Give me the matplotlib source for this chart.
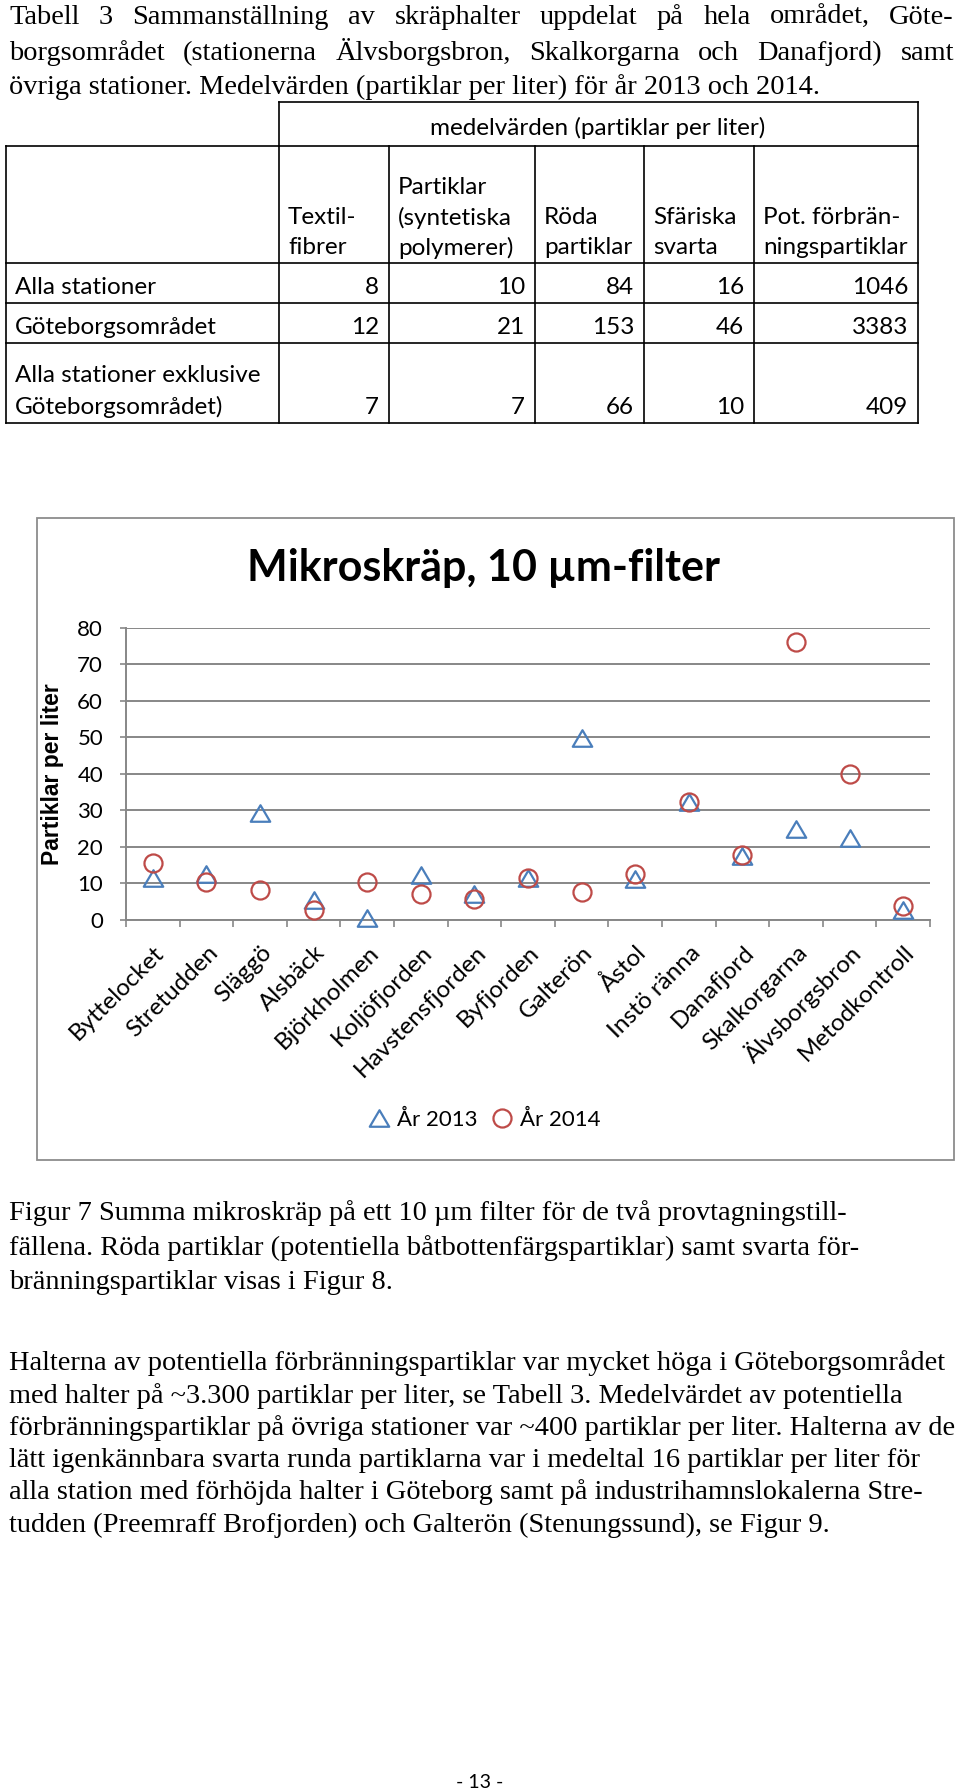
import matplotlib
matplotlib.use("Agg")
import matplotlib.pyplot as plt
import matplotlib.transforms as mtransforms
from matplotlib.lines import Line2D
from matplotlib.patches import Rectangle
from matplotlib.path import Path

W, H = 960, 1791

# chart data (partiklar per liter)
stations = ["Byttelocket", "Stretudden", "Släggö", "Alsbäck", "Björkholmen",
            "Koljöfjorden", "Havstensfjorden", "Byfjorden", "Galterön", "Åstol",
            "Instö ränna", "Danafjord", "Skalkorgarna", "Älvsborgsbron", "Metodkontroll"]
year_2013 = [11.4, 12.6, 29.4, 5.6, 0.5, 12.2, 7.1, 11.5, 49.9, 11.3, 32.2, 17.6, 24.9, 22.3, 2.6]
year_2014 = [15.5, 10.5, 8.2, 2.7, 10.5, 7.0, 5.7, 11.5, 7.7, 12.7, 32.3, 17.7, 75.9, 40.0, 3.8]
y_ticks = [0, 10, 20, 30, 40, 50, 60, 70, 80]

# table data
table_cols = [["Textil-", "fibrer"],
              ["Partiklar", "(syntetiska", "polymerer)"],
              ["Röda", "partiklar"],
              ["Sfäriska", "svarta"],
              ["Pot. förbrän-", "ningspartiklar"]]
table_rows = [["Alla stationer"], ["Göteborgsområdet"],
              ["Alla stationer exklusive", "Göteborgsområdet)"]]
table_vals = [[8, 10, 84, 16, 1046],
              [12, 21, 153, 46, 3383],
              [7, 7, 66, 10, 409]]

caption_top = ["Tabell 3 Sammanställning av skräphalter uppdelat på hela området, Göte-",
               "borgsområdet (stationerna Älvsborgsbron, Skalkorgarna och Danafjord) samt",
               "övriga stationer. Medelvärden (partiklar per liter) för år 2013 och 2014."]
caption_fig = ["Figur 7 Summa mikroskräp på ett 10 µm filter för de två provtagningstill-",
               "fällena. Röda partiklar (potentiella båtbottenfärgspartiklar) samt svarta för-",
               "bränningspartiklar visas i Figur 8."]
paragraph = ["Halterna av potentiella förbränningspartiklar var mycket höga i Göteborgsområdet",
             "med halter på ~3.300 partiklar per liter, se Tabell 3. Medelvärdet av potentiella",
             "förbränningspartiklar på övriga stationer var ~400 partiklar per liter. Halterna av de",
             "lätt igenkännbara svarta runda partiklarna var i medeltal 16 partiklar per liter för",
             "alla station med förhöjda halter i Göteborg samt på industrihamnslokalerna Stre-",
             "tudden (Preemraff Brofjorden) och Galterön (Stenungssund), se Figur 9."]

SERIF = "Liberation Serif"
SANS = "Lato"
BODY = 20.4
TAB = 17.5

fig = plt.figure(figsize=(W / 100, H / 100), dpi=100)


def fx(x):
    return x / W


def fy(y):
    return 1 - y / H


def ftext(x, y, s, **kw):
    return fig.text(fx(x), fy(y), s, **kw)


def hline(x0, x1, y, color="black", lw=1.2):
    fig.add_artist(Line2D([fx(x0), fx(x1)], [fy(y), fy(y)], color=color, lw=lw,
                          transform=fig.transFigure))


def vline(x, y0, y1, color="black", lw=1.2):
    fig.add_artist(Line2D([fx(x), fx(x)], [fy(y0), fy(y1)], color=color, lw=lw,
                          transform=fig.transFigure))


def justified(line, x0, x1, y, **kw):
    # spread the words so the line fills x0..x1
    words = line.split(" ")
    texts = [ftext(x0, y, w, **kw) for w in words]
    r = fig.canvas.get_renderer()
    widths = [t.get_window_extent(r).width for t in texts]
    gap = (x1 - x0 - sum(widths)) / (len(words) - 1)
    x = x0
    for t, w in zip(texts, widths):
        t.set_x(fx(x))
        x += w + gap


# --- top caption
tkw = dict(family=SERIF, fontsize=BODY, va="baseline", ha="left")
justified(caption_top[0], 9, 954, 24, **tkw)
justified(caption_top[1], 9, 954, 60, **tkw)
ftext(9, 94, caption_top[2], **tkw)

# --- table
cx = [279, 389, 535, 644, 754, 918]
hline(279, 918, 102)
vline(279, 102, 146)
vline(918, 102, 146)
ftext(598, 128, "medelvärden (partiklar per liter)", family=SANS, fontsize=TAB,
      ha="center", va="center")
for y in [146, 263, 303, 343, 423]:
    hline(6, 918, y)
vline(6, 146, 423)
for x in cx:
    vline(x, 146, 423)

head_y = [187, 218, 248]
for c, lines in enumerate(table_cols):
    for k, s in enumerate(lines):
        ftext(cx[c] + 9, head_y[3 - len(lines) + k], s, family=SANS, fontsize=TAB,
              ha="left", va="center")

row_text_y = [[288], [328], [376, 407]]
for r, names in enumerate(table_rows):
    for k, s in enumerate(names):
        ftext(15, row_text_y[r][k], s, family=SANS, fontsize=TAB, ha="left", va="center")
    for c, v in enumerate(table_vals[r]):
        ftext(cx[c + 1] - 10, row_text_y[r][-1], str(v), family=SANS, fontsize=TAB,
              ha="right", va="center")

# --- chart
fig.add_artist(Rectangle((fx(37), fy(1160)), fx(954) - fx(37), fy(518) - fy(1160),
                         fill=False, ec="#8c8c8c", lw=1.3, transform=fig.transFigure))

ax_l, ax_r, ax_t, ax_b = 126, 930, 627.5, 920
ax = fig.add_axes([fx(ax_l), fy(ax_b), fx(ax_r) - fx(ax_l), fy(ax_t) - fy(ax_b)])
grid_c = "#878787"
tri = Path([(-1, -0.85), (1, -0.85), (0, 0.85), (-1, -0.85)],
           [Path.MOVETO, Path.LINETO, Path.LINETO, Path.CLOSEPOLY])
xs = list(range(len(stations)))
ax.plot(xs, year_2013, ls="none", marker=tri, ms=14, mfc="none", mec="#4a7ebb",
        mew=1.6, clip_on=False, zorder=3, label="År 2013")
ax.plot(xs, year_2014, ls="none", marker="o", ms=13, mfc="none", mec="#be4b48",
        mew=1.6, clip_on=False, zorder=4, label="År 2014")

ax.set_xlim(-0.5, len(stations) - 0.5)
ax.set_ylim(0, 80)
ax.set_yticks(y_ticks)
ax.yaxis.grid(True, color=grid_c, lw=1.4)
ax.set_axisbelow(True)
for s in ["top", "right"]:
    ax.spines[s].set_visible(False)
for s in ["left", "bottom"]:
    ax.spines[s].set_color(grid_c)
    ax.spines[s].set_linewidth(1.4)
ax.tick_params(axis="y", direction="out", length=4.5, width=1.2, color=grid_c,
               pad=12, labelsize=16)
for lab in ax.get_yticklabels():
    lab.set_family(SANS)

ax.set_xticks([x - 0.5 for x in xs] + [len(stations) - 0.5], minor=True)
ax.tick_params(axis="x", which="minor", direction="out", length=5, width=1.2, color=grid_c)
ax.set_xticks(xs)
ax.set_xticklabels(stations, rotation=45, ha="right", va="center", rotation_mode="anchor",
                   family=SANS, fontsize=17.5)
ax.tick_params(axis="x", which="major", length=0, pad=21)
shift = mtransforms.ScaledTranslation(8 / 100, 0, fig.dpi_scale_trans)
for lab in ax.get_xticklabels():
    lab.set_transform(lab.get_transform() + shift)

ax.set_ylabel("Partiklar per liter", family="Liberation Sans", fontweight="bold",
              fontsize=16.5)
ax.yaxis.set_label_coords((64 - ax_l) / (ax_r - ax_l), 0.5)

ftext(483, 568, "Mikroskräp, 10 µm-filter", family=SANS, fontweight="bold",
      fontsize=31, ha="center", va="center")

fig.legend(loc="center", bbox_to_anchor=(fx(484), fy(1120)), ncol=2, frameon=False,
           prop={"family": SANS, "size": 16}, handlelength=1.0, handletextpad=0.3,
           columnspacing=0.6)

# --- figure caption and paragraph
for s, y in zip(caption_fig, [1220, 1255, 1289]):
    ftext(9, y, s, **tkw)
for s, y in zip(paragraph, [1370, 1403, 1435, 1467, 1499, 1532]):
    ftext(9, y, s, **tkw)

ftext(480, 1782, "- 13 -", family=SANS, fontsize=14, ha="center", va="center")

fig.savefig("out.png", dpi=100, facecolor="white")
